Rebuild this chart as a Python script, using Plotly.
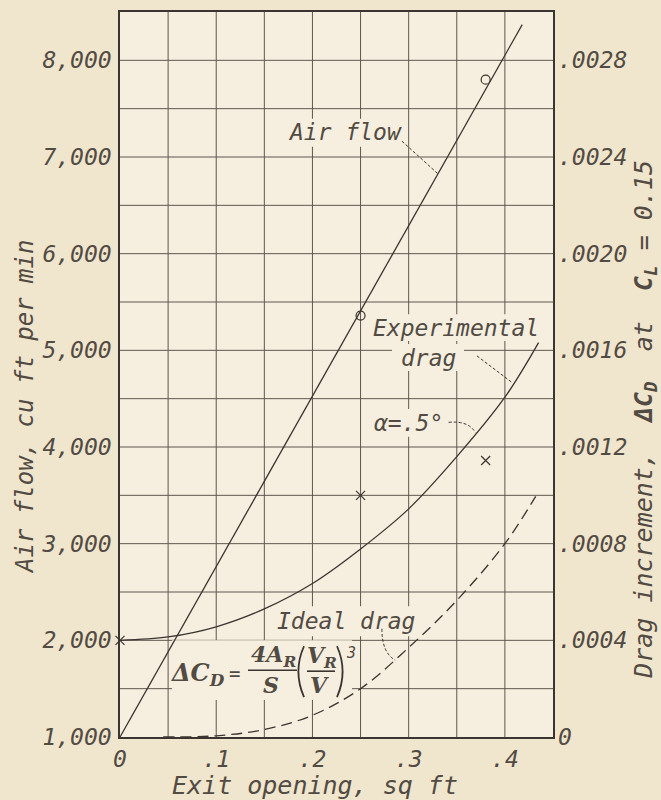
import plotly.graph_objects as go

# ---------------- data ----------------
# exit opening, sq ft
airflow_x = [0.0, 0.418]
airflow_cfm = [1000, 8370]          # air flow, cu ft per min (faired line)
airflow_test_x = [0.25, 0.38]
airflow_test_cfm = [5360, 7800]     # measured air flow

exp_drag_x = [0.0, 0.05, 0.10, 0.15, 0.20, 0.25, 0.30, 0.35, 0.40, 0.435]
exp_drag_cd = [0.000400, 0.000414, 0.000456, 0.000530, 0.000635,
               0.000778, 0.000944, 0.001160, 0.001406, 0.001632]
exp_test_x = [0.0, 0.25, 0.38]
exp_test_cd = [0.000400, 0.001000, 0.001144]

ideal_drag_x = [0.045, 0.10, 0.15, 0.20, 0.25, 0.30, 0.35, 0.40, 0.432]
ideal_drag_cd = [0.0, 0.000005, 0.000031, 0.000090, 0.000200,
                 0.000370, 0.000565, 0.000800, 0.000996]

x_ticks = [0.0, 0.1, 0.2, 0.3, 0.4]
x_tick_text = ["0", ".1", ".2", ".3", ".4"]
x_grid = [0.05, 0.10, 0.15, 0.20, 0.25, 0.30, 0.35, 0.40]
y_ticks = [1000, 2000, 3000, 4000, 5000, 6000, 7000, 8000]
y_tick_text = ["1,000", "2,000", "3,000", "4,000", "5,000", "6,000", "7,000", "8,000"]
y_grid = [1500, 2000, 2500, 3000, 3500, 4000, 4500, 5000, 5500,
          6000, 6500, 7000, 7500, 8000]
cd_ticks = [0.0, 0.0004, 0.0008, 0.0012, 0.0016, 0.0020, 0.0024, 0.0028]
cd_tick_text = ["0", ".0004", ".0008", ".0012", ".0016", ".0020", ".0024", ".0028"]

# ---------------- style ----------------
INK = "#3a3530"
TXT = "#524b43"
GRID = "#5e574e"
PAPER = "#f0e5cd"
PLOT_BG = "#f6efdf"
MONO = "DejaVu Sans Mono"
SERIF = "DejaVu Serif"

W, H = 661, 800
L, R, T, B = 120, 108, 10, 63
PW, PH = W - L - R, H - T - B


def px(x):
    """canvas x pixel -> paper fraction"""
    return (x - L) / PW


def py(y):
    """canvas y pixel -> paper fraction"""
    return (H - B - y) / PH


fig = go.Figure()

fig.add_trace(go.Scatter(x=airflow_x, y=airflow_cfm, mode="lines",
                         line=dict(color=INK, width=1.3), yaxis="y"))
fig.add_trace(go.Scatter(x=airflow_test_x, y=airflow_test_cfm, mode="markers",
                         marker=dict(symbol="circle-open", size=9, color=INK,
                                     line=dict(width=1.2, color=INK)),
                         cliponaxis=False, yaxis="y"))
fig.add_trace(go.Scatter(x=exp_drag_x, y=exp_drag_cd, mode="lines",
                         line=dict(color=INK, width=1.3, shape="spline", smoothing=1.0),
                         yaxis="y2"))
fig.add_trace(go.Scatter(x=exp_test_x, y=exp_test_cd, mode="markers",
                         marker=dict(symbol="x-thin", size=9, color=INK,
                                     line=dict(width=1.2, color=INK)),
                         cliponaxis=False, yaxis="y2"))
fig.add_trace(go.Scatter(x=ideal_drag_x, y=ideal_drag_cd, mode="lines",
                         line=dict(color=INK, width=1.3, dash="11px,6px",
                                   shape="spline", smoothing=1.0),
                         yaxis="y2"))

# grid drawn underneath the curves
for gx in x_grid:
    fig.add_shape(type="line", xref="x", yref="y domain", x0=gx, x1=gx, y0=0, y1=1,
                  line=dict(color=GRID, width=1), layer="below")
for gy in y_grid:
    fig.add_shape(type="line", xref="x domain", yref="y", x0=0, x1=1, y0=gy, y1=gy,
                  line=dict(color=GRID, width=1), layer="below")

# clear the grid behind lettering
for x0, y0, x1, y1 in [(285, 117, 405, 145), (366, 313, 546, 340), (392, 343, 464, 370),
                       (366, 408, 450, 436), (270, 606, 424, 636), (172, 640, 352, 700)]:
    fig.add_shape(type="rect", xref="paper", yref="paper",
                  x0=px(x0), x1=px(x1), y0=py(y1), y1=py(y0),
                  fillcolor=PLOT_BG, line=dict(width=0), layer="below")

# leader lines
lead = dict(color=INK, width=1, dash="3px,2px")
fig.add_shape(type="line", xref="x", yref="y", x0=0.293, y0=7164, x1=0.330, y1=6830, line=lead)
fig.add_shape(type="line", xref="x", yref="y2", x0=0.371, y0=0.001577,
              x1=0.4074, y1=0.001467, line=lead)
fig.add_shape(type="path", xref="x", yref="y2",
              path="M 0.3415,0.001302 Q 0.362,0.001310 0.3693,0.001260", line=lead)
fig.add_shape(type="path", xref="x", yref="y2",
              path="M 0.2722,0.000448 Q 0.272,0.000350 0.286,0.000318", line=lead)

ann = []


def label(text, x, y, size=23, family=MONO, style="italic", weight="normal", angle=0, color=TXT):
    ann.append(dict(text=text, x=px(x), y=py(y), xref="paper", yref="paper",
                    xanchor="center", yanchor="middle", showarrow=False, textangle=angle,
                    font=dict(family=family, size=size, color=color, style=style, weight=weight)))


label("Air flow", 345, 130)
label("Experimental", 456, 327)
label("drag", 428, 357)
label("α=.5°", 408, 422)
label("Ideal drag", 346, 621)

# ideal-drag relation
label("ΔC<sub>D</sub>", 198, 674, size=24, family=SERIF, weight="bold")
label("=", 234, 673, size=19, family=MONO, style="normal")
label("4A<sub>R</sub>", 273, 656, size=22, family=SERIF, weight="bold")
label("S", 271, 685, size=22, family=SERIF, weight="bold")
label("V<sub>R</sub>", 322, 657, size=22, family=SERIF, weight="bold")
label("V", 319, 685, size=22, family=SERIF, weight="bold")
label("3", 351, 653, size=15, family=MONO)
for x0, x1, y in [(248, 297, 670), (307, 335, 671)]:
    fig.add_shape(type="line", xref="paper", yref="paper", x0=px(x0), x1=px(x1),
                  y0=py(y), y1=py(y), line=dict(color=INK, width=1.6))
# parentheses around the velocity ratio
for xe, xb in [(304, 297), (337, 344)]:
    fig.add_shape(type="path", xref="paper", yref="paper",
                  path=f"M {px(xe)},{py(646)} Q {px(xb - (xe - xb) * 0.6)},{py(671)} {px(xe)},{py(697)}",
                  line=dict(color=INK, width=1.8))

# axis titles
label("Air flow, cu ft per min", 25, 406, size=24, angle=-90)
label("Drag increment,  <b>ΔC<sub>D</sub></b>  at  <b>C<sub>L</sub></b> = 0.15", 645, 419, size=25, angle=-90)
label("Exit opening, sq ft", 315, 786, size=25)

tickfont = dict(family=MONO, size=23, color=TXT, style="italic")

fig.update_layout(
    width=W, height=H,
    margin=dict(l=L, r=R, t=T, b=B, pad=0),
    paper_bgcolor=PAPER, plot_bgcolor=PLOT_BG,
    showlegend=False,
    annotations=ann,
    xaxis=dict(range=[0, 0.45], tickvals=x_ticks, ticktext=x_tick_text, showgrid=False,
               showline=True, linecolor=INK, linewidth=1.5, mirror=True,
               zeroline=False, ticks="", tickfont=tickfont, ticklabelstandoff=1),
    yaxis=dict(range=[1000, 8500], tickvals=y_ticks, ticktext=y_tick_text, showgrid=False,
               showline=True, linecolor=INK, linewidth=1.5, mirror=True,
               zeroline=False, ticks="", tickfont=tickfont, ticklabelstandoff=2),
    yaxis2=dict(range=[0, 0.003], tickvals=cd_ticks, ticktext=cd_tick_text,
                overlaying="y", side="right", showgrid=False, zeroline=False,
                showline=False, ticks="", tickfont=tickfont, ticklabelstandoff=4),
)

fig.write_html("out.html")
